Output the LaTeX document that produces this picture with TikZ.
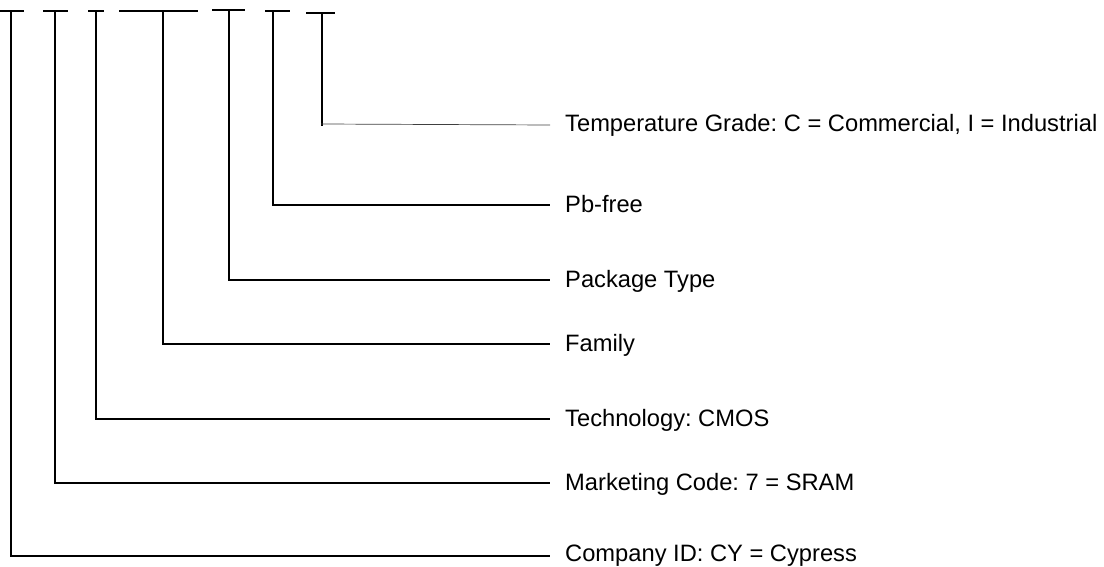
\documentclass[tikz,border=0pt]{standalone}
\usepackage{fontspec}
\setmainfont{Liberation Sans}
\frenchspacing
\begin{document}
\begin{tikzpicture}[x=1pt,y=-1pt,
  bar/.style={line width=1.3pt},
  lead/.style={line width=1.3pt},
  thin/.style={line width=0.7pt,black!75},
  lab/.style={anchor=base west,inner sep=0pt,font=\fontsize{23.7}{27}\selectfont}]
\useasboundingbox (0,0) rectangle (1104,567);
% labels (baseline about line y + 7)
\node[lab] (t7) at (565,132) {Temperature Grade: C = Commercial, I = Industrial};
\node[lab] (t6) at (565,212) {Pb-free};
\node[lab] (t5) at (565,287) {Package Type};
\node[lab] (t4) at (565,351) {Family};
\node[lab] (t3) at (565,426) {Technology: CMOS};
\node[lab] (t2) at (565,490) {Marketing Code: 7 = SRAM};
\node[lab] (t1) at (565,561.5) {Company ID: CY = Cypress};
% line ends
\coordinate (e1) at (550,556);
\coordinate (e2) at (550,483);
\coordinate (e3) at (550,419);
\coordinate (e4) at (550,344);
\coordinate (e5) at (550,280);
\coordinate (e6) at (550,205);
\coordinate (e7) at (550,125);
% bars
\draw[bar] (0,11) -- (24,11);
\draw[bar] (43,11) -- (68,11);
\draw[bar] (88,11) -- (104,11);
\draw[bar] (119,11) -- (198,11);
\draw[bar] (212,10) -- (245,10);
\draw[bar] (265,11) -- (290,11);
\draw[bar] (306,13) -- (335,13);
\coordinate (b1) at (11,11);
\coordinate (b2) at (55,11);
\coordinate (b3) at (96,11);
\coordinate (b4) at (163,11);
\coordinate (b5) at (229,10);
\coordinate (b6) at (273,11);
\coordinate (b7) at (322,13);
\coordinate (k7) at (322,126);
\draw[lead] (b1) |- (e1);
\draw[lead] (b2) |- (e2);
\draw[lead] (b3) |- (e3);
\draw[lead] (b4) |- (e4);
\draw[lead] (b5) |- (e5);
\draw[lead] (b6) |- (e6);
\draw[lead] (b7) -- (k7);
\draw[thin] (321,124) -- (e7);
\end{tikzpicture}
\end{document}
